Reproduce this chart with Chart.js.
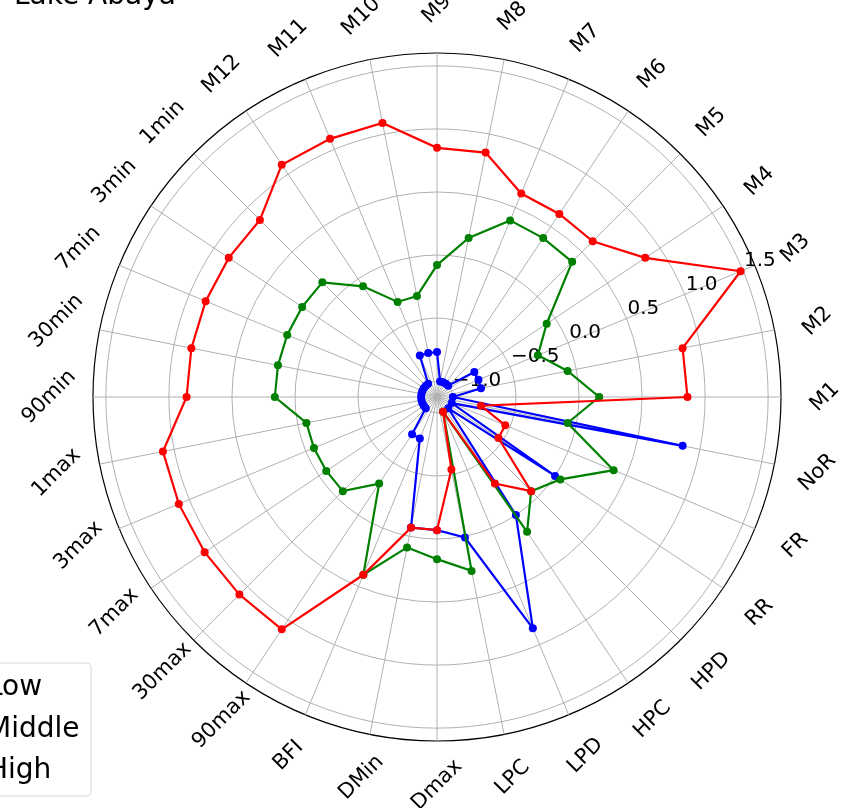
<!DOCTYPE html>
<html><head><meta charset="utf-8">
<script src="https://cdn.jsdelivr.net/npm/chart.js@4.4.0/dist/chart.umd.min.js"></script>
<style>html,body{margin:0;padding:0;background:#fff;overflow:hidden}canvas{display:block}</style>
</head><body>
<canvas id="c" width="854" height="808" style="width:854px;height:808px"></canvas>
<script>
const chartTitle = 'Lake Abaya';
const categories = ['M1','M2','M3','M4','M5','M6','M7','M8','M9','M10','M11','M12',
  '1min','3min','7min','30min','90min','1max','3max','7max','30max','90max',
  'BFI','DMin','Dmax','LPC','LPD','HPC','HPD','RR','FR','NoR'];
const seriesNames = ['Low','Middle','High'];
const seriesColors = ['#0000ff','#008000','#ff0000'];
const lowValues = [-1.0,-0.77,-0.77,-0.77,-1.0,-1.0,-1.0,-1.0,-0.77,-0.77,-0.77,-1.0,
  -1.0,-1.0,-1.0,-1.0,-1.0,-1.0,-1.0,-1.0,-1.0,-0.77,
  -0.77,-0.07,-0.07,0.01,0.86,0.0,-1.0,0.0,-1.0,0.86];
const middleValues = [0.16,-0.07,-0.26,-0.08,0.39,0.39,0.39,0.16,-0.08,-0.31,-0.31,-0.07,
  0.16,0.16,0.16,0.16,0.16,-0.07,-0.07,-0.07,-0.07,-0.30,
  0.40,0.09,0.16,0.28,-1.0,0.16,-0.07,0.05,0.39,-0.07];
const highValues = [0.86,0.86,1.48,0.86,0.62,0.62,0.62,0.85,0.85,1.09,1.09,1.09,
  0.86,0.86,0.86,0.86,0.86,1.09,1.09,1.09,1.09,1.09,
  0.40,-0.07,-0.07,-0.54,-1.0,-0.30,-0.07,-0.54,-0.54,-0.77];
const radialTickValues = [-1.0,-0.5,0.0,0.5,1.0,1.5];
const radialTickLabels = ['\u22121.0','\u22120.5','0.0','0.5','1.0','1.5'];
const rMin = -1.126, rMax = 1.602;

// Chart.js radar runs clockwise; the reference runs counter-clockwise from the east.
const order = [0].concat(categories.map((_, i) => i).slice(1).reverse());
const reorder = arr => order.map(i => arr[i]);
const seriesValues = [lowValues, middleValues, highValues];

const FONT = '"DejaVu Sans", "Liberation Sans", sans-serif';

const decor = {
  id: 'decor',
  beforeDatasetsDraw(chart) {
    const s = chart.scales.r, ctx = chart.ctx;
    ctx.save();
    ctx.fillStyle = '#000';
    ctx.font = '20px ' + FONT;
    ctx.textAlign = 'left';
    ctx.textBaseline = 'alphabetic';
    const a = 22.5 * Math.PI / 180;
    radialTickValues.forEach((v, i) => {
      const d = s.getDistanceFromCenterForValue(v);
      const x = s.xCenter + d * Math.cos(a), y = s.yCenter - d * Math.sin(a);
      ctx.fillText(radialTickLabels[i], x + 1, y - 4.5);
    });
    ctx.restore();
  },
  afterDraw(chart) {
    const s = chart.scales.r, ctx = chart.ctx;
    ctx.save();
    // angular labels, rotated 45 degrees
    ctx.fillStyle = '#000';
    ctx.font = '21px ' + FONT;
    ctx.textAlign = 'center';
    ctx.textBaseline = 'middle';
    chart.data.labels.forEach((lab, k) => {
      const p = s.getPointPosition(k, s.drawingArea + 44);
      ctx.save();
      ctx.translate(p.x, p.y);
      ctx.rotate(-Math.PI / 4);
      ctx.fillText(lab, 0, 0);
      ctx.restore();
    });
    // title
    ctx.textAlign = 'left';
    ctx.textBaseline = 'alphabetic';
    ctx.font = '28px ' + FONT;
    ctx.fillText(chartTitle, 14, 4);
    // legend
    const bx = -80, by = 663, bw = 171, bh = 133, rr = 5;
    ctx.beginPath();
    ctx.moveTo(bx + rr, by);
    ctx.lineTo(bx + bw - rr, by);
    ctx.quadraticCurveTo(bx + bw, by, bx + bw, by + rr);
    ctx.lineTo(bx + bw, by + bh - rr);
    ctx.quadraticCurveTo(bx + bw, by + bh, bx + bw - rr, by + bh);
    ctx.lineTo(bx + rr, by + bh);
    ctx.quadraticCurveTo(bx, by + bh, bx, by + bh - rr);
    ctx.lineTo(bx, by + rr);
    ctx.quadraticCurveTo(bx, by, bx + rr, by);
    ctx.closePath();
    ctx.fillStyle = 'rgba(255,255,255,0.8)';
    ctx.fill();
    ctx.strokeStyle = '#d6d6d6';
    ctx.lineWidth = 1;
    ctx.stroke();
    ctx.font = '28px ' + FONT;
    const baselines = [695, 737, 778];
    seriesNames.forEach((n, i) => {
      // handle (falls outside the visible page, as in the reference)
      ctx.strokeStyle = seriesColors[i];
      ctx.lineWidth = 2;
      ctx.beginPath();
      ctx.moveTo(-70, baselines[i] - 10);
      ctx.lineTo(-25, baselines[i] - 10);
      ctx.stroke();
      ctx.fillStyle = '#000';
      ctx.fillText(n, -13, baselines[i]);
    });
    ctx.restore();
  }
};

const datasets = seriesNames.map((name, i) => ({
  label: name,
  data: reorder(seriesValues[i]),
  borderColor: seriesColors[i],
  backgroundColor: seriesColors[i],
  pointBackgroundColor: seriesColors[i],
  pointBorderColor: seriesColors[i],
  pointBorderWidth: 0,
  pointRadius: 4,
  borderWidth: 2.2,
  fill: false,
  tension: 0,
  order: 2 - i
}));

new Chart(document.getElementById('c'), {
  type: 'radar',
  data: { labels: reorder(categories), datasets },
  options: {
    responsive: false,
    animation: false,
    layout: { padding: { left: 93, right: 73, top: 53, bottom: 67 } },
    plugins: { legend: { display: false }, title: { display: false }, tooltip: { enabled: false } },
    elements: { line: { tension: 0 } },
    scales: {
      r: {
        min: rMin,
        max: rMax,
        startAngle: 90,
        ticks: { display: false, stepSize: 0.5 },
        pointLabels: { display: false },
        angleLines: { display: true, color: '#b0b0b0', lineWidth: 1 },
        grid: {
          circular: true,
          color: ctx => {
            const v = ctx.tick ? ctx.tick.value : 0;
            if (Math.abs(v - rMax) < 1e-6) return '#000000';
            if (Math.abs(v * 2 - Math.round(v * 2)) < 1e-6) return '#b0b0b0';
            return 'rgba(0,0,0,0)';
          },
          lineWidth: ctx => {
            const v = ctx.tick ? ctx.tick.value : 0;
            return Math.abs(v - rMax) < 1e-6 ? 1.2 : 1;
          }
        }
      }
    }
  },
  plugins: [decor]
});
</script>
</body></html>
